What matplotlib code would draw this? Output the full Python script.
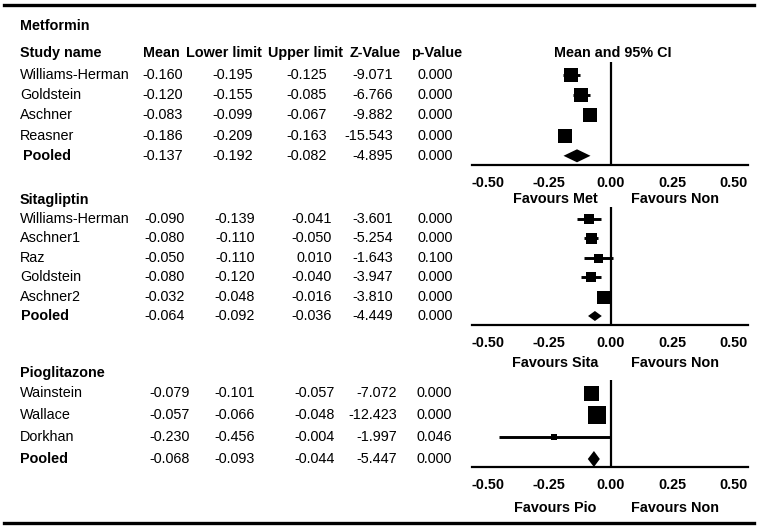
import matplotlib
matplotlib.use("Agg")
import matplotlib.pyplot as plt
from matplotlib.patches import Polygon
from matplotlib.lines import Line2D

plt.rcParams['font.family'] = ['Liberation Sans', 'DejaVu Sans']

# ---------------- data ----------------
columns = ["Mean", "Lower limit", "Upper limit", "Z-Value", "p-Value"]
tick_vals = [-0.50, -0.25, 0.00, 0.25, 0.50]

met_names = ["Williams-Herman", "Goldstein", "Aschner", "Reasner"]
met_mean = [-0.160, -0.120, -0.083, -0.186]
met_lower = [-0.195, -0.155, -0.099, -0.209]
met_upper = [-0.125, -0.085, -0.067, -0.163]
met_z = [-9.071, -6.766, -9.882, -15.543]
met_p = [0.000, 0.000, 0.000, 0.000]
met_pooled = [-0.137, -0.192, -0.082, -4.895, 0.000]
met_box = [14, 14, 14, 14]

sita_names = ["Williams-Herman", "Aschner1", "Raz", "Goldstein", "Aschner2"]
sita_mean = [-0.090, -0.080, -0.050, -0.080, -0.032]
sita_lower = [-0.139, -0.110, -0.110, -0.120, -0.048]
sita_upper = [-0.041, -0.050, 0.010, -0.040, -0.016]
sita_z = [-3.601, -5.254, -1.643, -3.947, -3.810]
sita_p = [0.000, 0.000, 0.100, 0.000, 0.000]
sita_pooled = [-0.064, -0.092, -0.036, -4.449, 0.000]
sita_box = [10, 11, 9, 10, 13]

pio_names = ["Wainstein", "Wallace", "Dorkhan"]
pio_mean = [-0.079, -0.057, -0.230]
pio_lower = [-0.101, -0.066, -0.456]
pio_upper = [-0.057, -0.048, -0.004]
pio_z = [-7.072, -12.423, -1.997]
pio_p = [0.000, 0.000, 0.046]
pio_pooled = [-0.068, -0.093, -0.044, -5.447, 0.000]
pio_box = [15, 18, 6.5]

# ---------------- layout helpers ----------------
W, H = 758, 529
fig = plt.figure(figsize=(W / 100, H / 100), dpi=100)

def fx(x):
    return x / W

def fy(y):
    return 1 - y / H

FS = 10.4

def txt(x, y, s, ha="left", bold=False, size=FS):
    fig.text(fx(x), fy(y), s, ha=ha, va="center", fontsize=size,
             fontweight="bold" if bold else "normal", color="black")

# frame lines
fig.add_artist(Line2D([fx(4), fx(754)], [fy(5), fy(5)], color="black", lw=2.4))
fig.add_artist(Line2D([fx(4), fx(754)], [fy(523), fy(523)], color="black", lw=2.4))

# headers
txt(20, 26, "Metformin", bold=True)
txt(20, 53, "Study name", bold=True)
hdr_x = [161, 224, 305, 375, 437]
for hx, h in zip(hdr_x, columns):
    txt(hx, 53, h, ha="center", bold=True)
txt(613, 53, "Mean and 95% CI", ha="center", bold=True)


def section(title, title_y, names, mean, lower, upper, z, p, pooled, box,
            row0, spacing, col_right, ax_top, ax_axis, fav_y, fav_labels,
            diamond_half_px, name_x=20, pooled_x=23):
    if title:
        txt(name_x, title_y, title, bold=True)
    n = len(names)
    for i in range(n):
        y = row0 + i * spacing
        txt(name_x, y, names[i])
        vals = [mean[i], lower[i], upper[i], z[i], p[i]]
        for cx, v in zip(col_right, vals):
            txt(cx, y, f"{v:.3f}", ha="right")
    y = row0 + n * spacing
    txt(pooled_x, y, "Pooled", bold=True)
    for cx, v in zip(col_right, pooled):
        txt(cx, y, f"{v:.3f}", ha="right")

    # forest axes
    left, right = 472, 748
    ax = fig.add_axes([fx(left), fy(ax_axis), (right - left) / W, (ax_axis - ax_top) / H])
    ax.set_xlim(-0.565, 0.56)
    ax.set_ylim((ax_axis - row0) / spacing, (ax_top - row0) / spacing)
    ax.patch.set_alpha(0)
    for s in ["top", "right", "left"]:
        ax.spines[s].set_visible(False)
    ax.spines["bottom"].set_linewidth(1.6)
    ax.set_yticks([])
    ax.set_xticks(tick_vals)
    ax.set_xticklabels([f"{t:.2f}" for t in tick_vals], fontsize=FS, fontweight="bold")
    ax.tick_params(axis="x", length=0, pad=8)
    ax.axvline(0, color="black", lw=1.6)
    for i in range(n):
        ax.plot([lower[i], upper[i]], [i, i], color="black", lw=2.1, solid_capstyle="butt")
        ax.plot([mean[i]], [i], marker="s", color="black", markersize=box[i] * 0.72,
                markeredgewidth=0, linestyle="none")
    pm, pl, pu = pooled[0], pooled[1], pooled[2]
    hh = diamond_half_px / spacing
    ax.add_patch(Polygon([(pl, n), (pm, n - hh), (pu, n), (pm, n + hh)],
                         closed=True, color="black", lw=0))
    txt(555, fav_y, fav_labels[0], ha="center", bold=True)
    txt(675, fav_y, fav_labels[1], ha="center", bold=True)


section(None, None, met_names, met_mean, met_lower, met_upper, met_z, met_p,
        met_pooled, met_box, row0=75, spacing=20.2,
        col_right=[183, 253, 327, 393, 453], ax_top=62, ax_axis=165,
        fav_y=199, fav_labels=["Favours Met", "Favours Non"],
        diamond_half_px=6.5, pooled_x=23)

section("Sitagliptin", 200, sita_names, sita_mean, sita_lower, sita_upper, sita_z, sita_p,
        sita_pooled, sita_box, row0=219, spacing=19.4,
        col_right=[185, 255, 332, 393, 453], ax_top=207, ax_axis=325,
        fav_y=363, fav_labels=["Favours Sita", "Favours Non"],
        diamond_half_px=5, pooled_x=21)

section("Pioglitazone", 373, pio_names, pio_mean, pio_lower, pio_upper, pio_z, pio_p,
        pio_pooled, pio_box, row0=393, spacing=22,
        col_right=[190, 255, 335, 397, 452], ax_top=380, ax_axis=467,
        fav_y=508, fav_labels=["Favours Pio", "Favours Non"],
        diamond_half_px=8, pooled_x=20)

fig.savefig("out.png", dpi=100)
